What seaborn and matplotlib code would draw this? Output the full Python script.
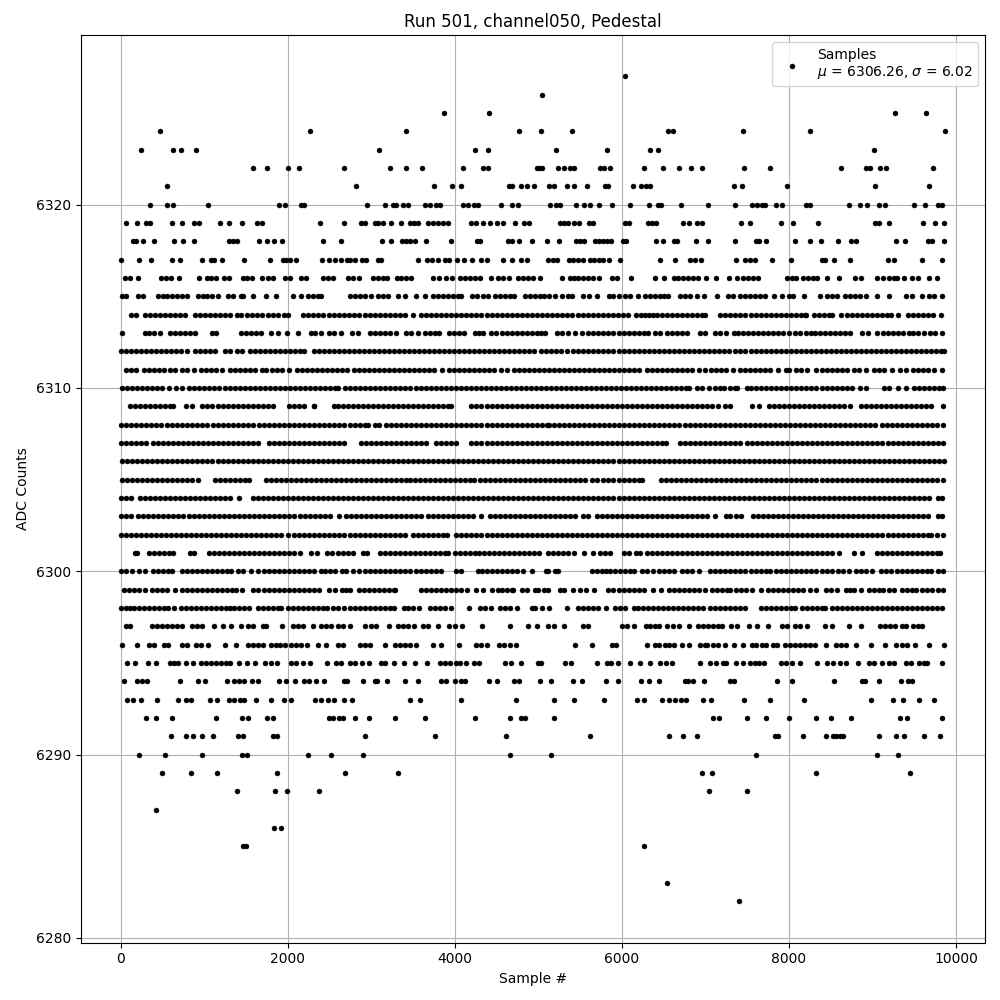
import pandas as pd
import seaborn as sns
import matplotlib
matplotlib.use('Agg')
import matplotlib.pyplot as plt

# sample numbers, one list per ADC level
level_6327 = [6036]
level_6326 = [5040]
level_6325 = [3872, 4412, 9264, 9636]
level_6324 = [476, 2264, 3416, 4772, 5028, 5400, 6552, 6612, 7452, 8256, 9864]
level_6323 = [248, 632, 720, 908, 3092, 4248, 4400, 5208, 5820, 6336, 6432, 9024]
level_6322 = [1580, 1748, 2000, 2132, 2672, 3224, 3416, 3608, 4100, 4340, 4400, 4988, 5012, 5044, 5232, 5304, 5380, 5432, 5744, 5792, 5856, 6264, 6492, 6684, 6828, 6960, 7464, 7776, 8628, 8924, 8972, 9092, 9156, 9720]
level_6321 = [560, 2816, 3752, 3968, 4076, 4644, 4684, 4796, 4868, 4952, 5132, 5184, 5340, 5424, 5580, 5804, 5836, 6132, 6232, 6292, 6340, 7344, 7440, 7980, 9036, 9672]
level_6320 = [356, 560, 632, 1052, 1892, 1968, 2156, 2192, 2948, 3164, 3260, 3300, 3380, 3440, 3640, 3700, 3780, 3820, 4100, 4160, 4228, 4284, 4556, 4688, 4760, 5136, 5212, 5260, 5448, 5552, 5624, 5728, 5888, 6096, 6324, 6432, 6472, 6708, 7032, 7356, 7560, 7612, 7672, 7712, 7848, 7920, 8200, 8252, 8724, 8856, 8940, 9084, 9152, 9492, 9624, 9780, 9832]
level_6319 = [68, 200, 300, 348, 620, 740, 880, 940, 1184, 1292, 1448, 1632, 1688, 2384, 2672, 2880, 2928, 3040, 3080, 3140, 3236, 3356, 3460, 3508, 3560, 3680, 3740, 3800, 3860, 3920, 4200, 4252, 4332, 4420, 4500, 4580, 4724, 4828, 4884, 5260, 5312, 5360, 5432, 5492, 5604, 5660, 6032, 6080, 6312, 6364, 6412, 6732, 6800, 6904, 6960, 7428, 7536, 7908, 8052, 8352, 9036, 9084, 9192, 9600, 9744, 9852]
level_6318 = [152, 188, 272, 404, 644, 752, 884, 1292, 1340, 1392, 1652, 1748, 1832, 1928, 2420, 2636, 3128, 3240, 3372, 3420, 3468, 3520, 3656, 3960, 4272, 4308, 4640, 4680, 4772, 4928, 5100, 5244, 5452, 5500, 5552, 5676, 5732, 5780, 5828, 5876, 6012, 6052, 6412, 6492, 6620, 6660, 6888, 7032, 7356, 7604, 7644, 7728, 8076, 8256, 8388, 8592, 8744, 8800, 9276, 9384, 9660, 9712, 9852]
level_6317 = [8, 224, 368, 620, 716, 980, 1080, 1120, 1208, 1472, 1784, 1940, 1980, 2028, 2096, 2408, 2492, 2564, 2636, 2708, 2748, 2800, 2888, 2940, 3080, 3112, 3560, 3668, 3724, 3804, 3880, 3932, 4028, 4108, 4204, 4320, 4388, 4580, 4688, 4788, 4860, 5120, 5172, 5224, 5372, 5420, 5472, 5532, 5620, 5672, 5724, 5780, 5844, 5976, 6456, 6636, 6812, 6872, 6948, 7368, 7480, 7532, 7596, 7800, 8028, 8400, 8432, 8544, 8736, 9180, 9252, 9588, 9828]
level_6316 = [52, 108, 212, 480, 540, 600, 704, 944, 1040, 1088, 1140, 1240, 1292, 1460, 1508, 1568, 1688, 1760, 1828, 1968, 2028, 2156, 2220, 2428, 2480, 2540, 2720, 2780, 2852, 3020, 3080, 3140, 3188, 3308, 3360, 3420, 3480, 3744, 3812, 3900, 3968, 4060, 4120, 4180, 4240, 4308, 4428, 4520, 4580, 4652, 4760, 4820, 4880, 4940, 5024, 5280, 5380, 5432, 5480, 5532, 5592, 5652, 5732, 5880, 5940, 6112, 6392, 6504, 6620, 6672, 6732, 6792, 6852, 6912, 7008, 7124, 7284, 7380, 7452, 7512, 7572, 7628, 7972, 8032, 8084, 8172, 8232, 8292, 8340, 8460, 8604, 8792, 8860, 9052, 9132, 9192, 9252, 9292, 9380, 9472, 9540, 9672, 9772]
level_6315 = [20, 68, 212, 272, 452, 508, 560, 620, 680, 740, 800, 932, 988, 1040, 1100, 1160, 1280, 1340, 1440, 1468, 1580, 1740, 1856, 2068, 2160, 2240, 2300, 2360, 2400, 2740, 2800, 2860, 2920, 3000, 3080, 3140, 3200, 3320, 3400, 3540, 3640, 3740, 3800, 3860, 3920, 3980, 4040, 4080, 4212, 4272, 4332, 4392, 4480, 4540, 4600, 4660, 4712, 4840, 4900, 4960, 5020, 5072, 5132, 5204, 5280, 5352, 5404, 5532, 5612, 5708, 5844, 5900, 5964, 6032, 6100, 6192, 6272, 6332, 6392, 6452, 6504, 6552, 6692, 6752, 6820, 6904, 6980, 7140, 7272, 7332, 7412, 7472, 7532, 7592, 7652, 7712, 7824, 7912, 8004, 8052, 8180, 8376, 8460, 8520, 8580, 8672, 8732, 8792, 8852, 8924, 9052, 9192, 9404, 9472, 9592, 9672, 9740, 9832]
level_6314 = [130, 190, 290, 350, 410, 470, 530, 590, 650, 710, 770, 890, 950, 1010, 1070, 1130, 1190, 1250, 1310, 1390, 1440, 1510, 1570, 1630, 1690, 1770, 1830, 1890, 1950, 2000, 2180, 2240, 2300, 2360, 2420, 2500, 2550, 2610, 2670, 2730, 2790, 2850, 2930, 2990, 3050, 3110, 3170, 3230, 3290, 3350, 3410, 3500, 3600, 3660, 3720, 3780, 3840, 3900, 3960, 4020, 4080, 4140, 4200, 4260, 4320, 4380, 4440, 4500, 4560, 4620, 4680, 4740, 4800, 4860, 4920, 4980, 5040, 5100, 5160, 5220, 5280, 5340, 5400, 5470, 5530, 5590, 5650, 5710, 5770, 5830, 5890, 5950, 6010, 6070, 6170, 6230, 6280, 6330, 6370, 6420, 6480, 6540, 6600, 6660, 6720, 6780, 6840, 6900, 6960, 7000, 7180, 7240, 7300, 7360, 7420, 7480, 7540, 7600, 7660, 7720, 7780, 7840, 7900, 7960, 8020, 8080, 8140, 8200, 8190, 8300, 8360, 8420, 8480, 8520, 8620, 8690, 8750, 8810, 8870, 8930, 8990, 9050, 9110, 9170, 9220, 9300, 9420, 9490, 9550, 9610, 9670, 9730, 9820]
level_6313 = [20, 290, 340, 400, 470, 590, 650, 710, 770, 830, 890, 1100, 1140, 1440, 1500, 1560, 1620, 1680, 1800, 1890, 1990, 2120, 2280, 2330, 2400, 2490, 2560, 2640, 2770, 2840, 2990, 3050, 3110, 3170, 3230, 3300, 3420, 3480, 3560, 3640, 3700, 3760, 3810, 3930, 3990, 4050, 4110, 4240, 4290, 4340, 4430, 4490, 4570, 4630, 4690, 4750, 4810, 4870, 4930, 4990, 5030, 5080, 5220, 5280, 5350, 5440, 5520, 5600, 5660, 5720, 5780, 5840, 5900, 5960, 6020, 6080, 6140, 6200, 6260, 6310, 6400, 6460, 6540, 6600, 6660, 6720, 6780, 6940, 7000, 7120, 7180, 7250, 7340, 7390, 7450, 7510, 7570, 7630, 7690, 7750, 7810, 7870, 7930, 8000, 8070, 8130, 8210, 8260, 8310, 8370, 8430, 8490, 8550, 8610, 8670, 8730, 8880, 8950, 9050, 9130, 9190, 9250, 9310, 9370, 9440, 9490, 9550, 9620, 9690, 9750, 9830]
level_6312 = [0, 60, 120, 180, 240, 300, 360, 420, 480, 540, 600, 660, 720, 790, 890, 950, 1010, 1070, 1130, 1250, 1310, 1390, 1450, 1550, 1610, 1670, 1730, 1790, 1850, 1910, 1970, 2030, 2090, 2150, 2200, 2310, 2370, 2430, 2490, 2550, 2610, 2670, 2730, 2790, 2850, 2910, 2970, 3030, 3090, 3150, 3210, 3270, 3330, 3390, 3450, 3510, 3570, 3630, 3690, 3750, 3810, 3870, 3930, 3990, 4050, 4110, 4170, 4230, 4290, 4350, 4410, 4470, 4530, 4590, 4650, 4710, 4770, 4830, 4890, 4950, 5030, 5090, 5150, 5210, 5270, 5340, 5420, 5480, 5540, 5600, 5660, 5720, 5780, 5840, 5900, 5960, 6020, 6080, 6140, 6200, 6260, 6320, 6380, 6440, 6500, 6560, 6620, 6680, 6740, 6800, 6860, 6920, 6980, 7040, 7100, 7160, 7220, 7280, 7360, 7420, 7480, 7540, 7600, 7660, 7720, 7780, 7840, 7900, 7960, 8020, 8080, 8140, 8200, 8260, 8320, 8380, 8440, 8500, 8560, 8620, 8680, 8740, 8800, 8860, 8920, 8980, 9040, 9100, 9160, 9220, 9280, 9340, 9400, 9460, 9520, 9580, 9640, 9700, 9760, 9820, 9856]
level_6311 = [60, 120, 180, 285, 345, 405, 465, 525, 590, 650, 730, 790, 880, 960, 1020, 1080, 1140, 1215, 1310, 1370, 1430, 1490, 1550, 1610, 1690, 1740, 1810, 1870, 1930, 2018, 2110, 2170, 2230, 2290, 2350, 2410, 2470, 2530, 2590, 2650, 2710, 2790, 2850, 2910, 2970, 3030, 3090, 3150, 3210, 3270, 3330, 3390, 3450, 3510, 3570, 3630, 3690, 3750, 3850, 3930, 3990, 4050, 4110, 4170, 4230, 4290, 4350, 4410, 4470, 4550, 4630, 4710, 4770, 4830, 4890, 4950, 5010, 5070, 5130, 5190, 5250, 5310, 5370, 5430, 5490, 5550, 5610, 5670, 5730, 5790, 5850, 5910, 5970, 6030, 6090, 6150, 6200, 6300, 6360, 6420, 6480, 6540, 6600, 6660, 6720, 6780, 6840, 6920, 7000, 7070, 7130, 7190, 7250, 7335, 7410, 7470, 7530, 7590, 7650, 7710, 7770, 7870, 7960, 8005, 8080, 8140, 8220, 8330, 8390, 8450, 8510, 8570, 8630, 8690, 8775, 8840, 8920, 9020, 9080, 9140, 9230, 9330, 9400, 9480, 9540, 9600, 9660, 9735, 9830]
level_6310 = [20, 80, 140, 200, 260, 320, 380, 440, 500, 580, 660, 740, 820, 880, 940, 1000, 1060, 1120, 1180, 1250, 1310, 1370, 1430, 1490, 1550, 1610, 1670, 1730, 1790, 1850, 1910, 1970, 2030, 2090, 2150, 2210, 2270, 2330, 2390, 2450, 2510, 2570, 2600, 2690, 2750, 2810, 2870, 2930, 2990, 3050, 3110, 3170, 3230, 3290, 3350, 3410, 3470, 3530, 3590, 3650, 3710, 3770, 3830, 3890, 3950, 4010, 4070, 4130, 4190, 4250, 4310, 4370, 4430, 4490, 4550, 4610, 4670, 4730, 4790, 4850, 4910, 4970, 5030, 5090, 5150, 5210, 5270, 5330, 5390, 5450, 5510, 5570, 5630, 5690, 5750, 5810, 5870, 5930, 5990, 6050, 6110, 6170, 6230, 6290, 6350, 6410, 6470, 6530, 6590, 6650, 6710, 6770, 6800, 6900, 6960, 7040, 7110, 7170, 7220, 7290, 7350, 7380, 7500, 7550, 7610, 7670, 7730, 7790, 7850, 7910, 7970, 8030, 8090, 8150, 8210, 8270, 8330, 8390, 8450, 8510, 8570, 8630, 8690, 8750, 8850, 8920, 9140, 9200, 9300, 9400, 9500, 9560, 9620, 9680, 9740, 9800, 9850]
level_6309 = [110, 170, 230, 290, 350, 410, 470, 530, 590, 630, 780, 850, 980, 1040, 1100, 1160, 1220, 1280, 1340, 1400, 1460, 1520, 1580, 1640, 1700, 1760, 1820, 2020, 2080, 2140, 2200, 2320, 2320, 2550, 2600, 2660, 2720, 2780, 2840, 2900, 2960, 3020, 3080, 3140, 3200, 3260, 3320, 3380, 3440, 3500, 3560, 3620, 3680, 3740, 3800, 3860, 3920, 3960, 4200, 4260, 4320, 4380, 4440, 4500, 4560, 4620, 4680, 4740, 4800, 4860, 4920, 4980, 5040, 5100, 5160, 5220, 5280, 5340, 5400, 5460, 5520, 5580, 5640, 5700, 5760, 5820, 5880, 5940, 6000, 6060, 6120, 6180, 6240, 6300, 6360, 6420, 6480, 6540, 6600, 6660, 6720, 6780, 6840, 6900, 6960, 7020, 7080, 7150, 7240, 7300, 7560, 7640, 7760, 7820, 7880, 7940, 8000, 8060, 8120, 8180, 8240, 8300, 8360, 8420, 8480, 8540, 8600, 8660, 8730, 8860, 8920, 8980, 9040, 9100, 9160, 9220, 9280, 9340, 9400, 9460, 9520, 9580, 9640, 9700, 9840]
level_6308 = [0, 60, 120, 180, 240, 300, 360, 420, 480, 560, 620, 680, 740, 800, 860, 920, 980, 1030, 1110, 1170, 1230, 1290, 1350, 1410, 1470, 1530, 1590, 1660, 1720, 1780, 1840, 1900, 1960, 2020, 2080, 2140, 2200, 2260, 2320, 2380, 2440, 2500, 2560, 2620, 2680, 2740, 2800, 2860, 2920, 2960, 3050, 3090, 3180, 3240, 3300, 3360, 3420, 3480, 3540, 3600, 3660, 3720, 3780, 3840, 3900, 3960, 4020, 4080, 4140, 4200, 4260, 4320, 4380, 4440, 4500, 4560, 4620, 4680, 4740, 4800, 4860, 4920, 4980, 5040, 5100, 5130, 5190, 5250, 5310, 5370, 5430, 5490, 5550, 5610, 5670, 5730, 5790, 5850, 5910, 5970, 6030, 6090, 6150, 6210, 6270, 6330, 6390, 6450, 6510, 6570, 6630, 6690, 6750, 6810, 6870, 6930, 6990, 7050, 7110, 7170, 7230, 7290, 7350, 7410, 7470, 7530, 7590, 7650, 7710, 7770, 7830, 7890, 7950, 8010, 8070, 8130, 8190, 8250, 8310, 8370, 8430, 8490, 8550, 8610, 8670, 8730, 8790, 8850, 8910, 8970, 9030, 9110, 9170, 9230, 9290, 9350, 9410, 9470, 9530, 9590, 9650, 9710, 9770, 9850]
level_6307 = [0, 60, 120, 180, 240, 300, 390, 450, 510, 570, 630, 690, 750, 810, 870, 930, 990, 1050, 1110, 1170, 1230, 1290, 1350, 1410, 1470, 1530, 1590, 1650, 1780, 1840, 1900, 1960, 2020, 2080, 2140, 2200, 2260, 2320, 2380, 2440, 2500, 2560, 2620, 2680, 2880, 2940, 3000, 3060, 3120, 3180, 3240, 3300, 3360, 3420, 3480, 3540, 3600, 3660, 3780, 3840, 3900, 3960, 4020, 4200, 4260, 4320, 4380, 4440, 4500, 4560, 4620, 4680, 4740, 4800, 4860, 4920, 4980, 5040, 5100, 5160, 5220, 5280, 5340, 5400, 5460, 5520, 5580, 5640, 5700, 5760, 5820, 5880, 5940, 6000, 6060, 6120, 6180, 6240, 6300, 6360, 6420, 6480, 6530, 6700, 6760, 6820, 6880, 6940, 7000, 7060, 7120, 7180, 7240, 7300, 7360, 7420, 7500, 7560, 7620, 7680, 7740, 7800, 7860, 7920, 7980, 8040, 8100, 8160, 8220, 8280, 8340, 8400, 8460, 8520, 8580, 8640, 8700, 8760, 8820, 8880, 8940, 9000, 9060, 9120, 9180, 9240, 9300, 9360, 9420, 9480, 9540, 9600, 9660, 9720, 9780, 9850]
level_6306 = [20, 80, 140, 200, 260, 320, 380, 440, 500, 560, 620, 680, 740, 800, 860, 920, 980, 1040, 1100, 1160, 1220, 1280, 1340, 1400, 1460, 1520, 1580, 1640, 1700, 1760, 1820, 1880, 1940, 2000, 2060, 2120, 2180, 2240, 2300, 2360, 2420, 2480, 2540, 2600, 2660, 2720, 2780, 2840, 2900, 2960, 3020, 3080, 3140, 3200, 3260, 3320, 3380, 3440, 3500, 3560, 3620, 3680, 3740, 3800, 3860, 3920, 3980, 4040, 4100, 4160, 4220, 4280, 4340, 4400, 4460, 4520, 4580, 4640, 4700, 4760, 4820, 4880, 4940, 5000, 5060, 5120, 5180, 5240, 5300, 5360, 5420, 5480, 5540, 5600, 5660, 5720, 5780, 5840, 5900, 5960, 6020, 6080, 6140, 6200, 6260, 6320, 6380, 6440, 6500, 6560, 6620, 6680, 6740, 6800, 6860, 6920, 6980, 7040, 7100, 7160, 7220, 7280, 7340, 7400, 7460, 7520, 7580, 7640, 7700, 7760, 7820, 7880, 7940, 8000, 8060, 8120, 8180, 8240, 8300, 8360, 8420, 8480, 8540, 8600, 8660, 8720, 8780, 8840, 8900, 8960, 9020, 9080, 9140, 9200, 9260, 9320, 9380, 9440, 9500, 9560, 9620, 9680, 9740, 9800, 9860]
level_6305 = [20, 80, 140, 200, 260, 320, 380, 440, 500, 560, 620, 680, 740, 800, 860, 930, 1130, 1190, 1250, 1310, 1370, 1430, 1490, 1540, 1740, 1800, 1860, 1920, 1980, 2040, 2100, 2160, 2220, 2280, 2340, 2400, 2460, 2520, 2580, 2640, 2700, 2760, 2820, 2880, 2940, 3000, 3060, 3120, 3180, 3240, 3300, 3360, 3420, 3460, 3520, 3580, 3640, 3700, 3760, 3820, 3880, 3940, 4000, 4060, 4120, 4180, 4230, 4300, 4360, 4420, 4480, 4540, 4600, 4660, 4720, 4780, 4840, 4900, 4960, 5020, 5080, 5140, 5200, 5260, 5320, 5380, 5440, 5500, 5560, 5640, 5700, 5780, 5840, 5900, 5960, 6020, 6080, 6140, 6200, 6240, 6470, 6530, 6590, 6650, 6710, 6770, 6830, 6890, 6950, 7010, 7070, 7130, 7190, 7250, 7310, 7370, 7430, 7490, 7550, 7610, 7670, 7730, 7790, 7850, 7910, 7970, 8030, 8090, 8150, 8210, 8270, 8330, 8390, 8450, 8510, 8570, 8630, 8690, 8750, 8810, 8870, 8930, 8990, 9050, 9110, 9170, 9230, 9290, 9350, 9410, 9470, 9530, 9590, 9650, 9710, 9770, 9850]
level_6304 = [0, 60, 130, 230, 290, 350, 410, 470, 530, 590, 650, 710, 770, 830, 890, 950, 1010, 1070, 1130, 1190, 1250, 1310, 1420, 1580, 1640, 1700, 1760, 1820, 1880, 1940, 2000, 2060, 2120, 2180, 2240, 2300, 2360, 2420, 2480, 2540, 2600, 2660, 2720, 2780, 2840, 2900, 2960, 3020, 3080, 3140, 3200, 3260, 3320, 3380, 3440, 3500, 3560, 3620, 3680, 3740, 3800, 3860, 3920, 3980, 4040, 4100, 4160, 4220, 4280, 4340, 4400, 4460, 4520, 4580, 4640, 4700, 4760, 4820, 4880, 4940, 5000, 5060, 5120, 5180, 5240, 5300, 5360, 5420, 5480, 5540, 5600, 5660, 5720, 5780, 5840, 5900, 5960, 6020, 6080, 6140, 6200, 6260, 6320, 6380, 6440, 6500, 6560, 6620, 6680, 6740, 6800, 6860, 6920, 6980, 7040, 7100, 7160, 7220, 7280, 7340, 7400, 7460, 7520, 7580, 7640, 7700, 7760, 7820, 7880, 7940, 8000, 8060, 8120, 8180, 8240, 8300, 8360, 8420, 8480, 8540, 8600, 8660, 8720, 8780, 8840, 8900, 8960, 9020, 9080, 9140, 9200, 9260, 9320, 9380, 9440, 9500, 9560, 9620, 9680, 9780, 9830]
level_6303 = [10, 70, 130, 210, 270, 330, 390, 450, 510, 570, 630, 690, 750, 820, 880, 940, 1000, 1060, 1120, 1180, 1240, 1300, 1360, 1420, 1480, 1540, 1600, 1660, 1720, 1780, 1840, 1900, 1960, 2020, 2080, 2150, 2210, 2270, 2330, 2390, 2450, 2510, 2610, 2700, 2760, 2820, 2880, 2940, 3000, 3060, 3120, 3180, 3240, 3300, 3360, 3420, 3480, 3540, 3600, 3680, 3740, 3800, 3860, 3920, 3980, 4040, 4100, 4160, 4220, 4320, 4420, 4480, 4540, 4600, 4660, 4720, 4780, 4840, 4900, 4960, 5020, 5080, 5140, 5200, 5260, 5320, 5380, 5440, 5530, 5590, 5700, 5760, 5820, 5880, 5940, 6000, 6060, 6120, 6180, 6240, 6300, 6360, 6420, 6480, 6540, 6600, 6660, 6720, 6780, 6840, 6900, 6960, 7020, 7120, 7250, 7300, 7370, 7430, 7570, 7630, 7690, 7750, 7810, 7870, 7930, 7990, 8050, 8110, 8170, 8230, 8290, 8350, 8410, 8470, 8530, 8590, 8650, 8710, 8770, 8830, 8890, 8950, 9010, 9070, 9130, 9190, 9250, 9310, 9370, 9430, 9490, 9550, 9610, 9670, 9780, 9830]
level_6302 = [0, 60, 120, 180, 240, 300, 360, 420, 480, 540, 600, 660, 720, 780, 840, 900, 960, 1020, 1080, 1140, 1200, 1260, 1320, 1380, 1440, 1500, 1560, 1620, 1680, 1740, 1800, 1860, 1920, 2000, 2080, 2140, 2200, 2260, 2320, 2380, 2440, 2500, 2560, 2620, 2680, 2750, 2810, 2870, 2930, 2990, 3050, 3110, 3170, 3230, 3290, 3350, 3400, 3500, 3560, 3620, 3680, 3740, 3800, 3860, 3910, 4020, 4080, 4140, 4200, 4260, 4320, 4380, 4440, 4500, 4560, 4620, 4680, 4740, 4800, 4860, 4920, 4980, 5040, 5100, 5160, 5220, 5280, 5340, 5400, 5460, 5520, 5580, 5640, 5700, 5760, 5820, 5880, 5940, 6000, 6060, 6120, 6180, 6240, 6300, 6360, 6420, 6480, 6540, 6600, 6660, 6720, 6780, 6840, 6900, 6960, 7020, 7080, 7140, 7200, 7260, 7320, 7380, 7440, 7500, 7560, 7620, 7680, 7740, 7800, 7860, 7920, 7980, 8040, 8100, 8160, 8220, 8280, 8340, 8400, 8460, 8520, 8580, 8640, 8700, 8760, 8820, 8880, 8940, 9000, 9060, 9120, 9180, 9240, 9300, 9360, 9420, 9480, 9540, 9600, 9660, 9700, 9770, 9850]
level_6301 = [170, 200, 340, 400, 460, 520, 580, 630, 830, 880, 1060, 1120, 1180, 1240, 1300, 1360, 1420, 1480, 1540, 1600, 1660, 1720, 1780, 1840, 1900, 1960, 2020, 2080, 2150, 2280, 2350, 2470, 2530, 2600, 2660, 2720, 2780, 2900, 2950, 3160, 3100, 3220, 3280, 3340, 3400, 3460, 3520, 3580, 3640, 3700, 3760, 3820, 3880, 3920, 4000, 4060, 4120, 4180, 4240, 4290, 4350, 4410, 4470, 4530, 4590, 4650, 4710, 4770, 4830, 4890, 4950, 5010, 5120, 5180, 5240, 5300, 5360, 5430, 5550, 5650, 5740, 5800, 5860, 6030, 6080, 6170, 6220, 6300, 6360, 6420, 6480, 6540, 6600, 6660, 6720, 6780, 6840, 6900, 6960, 7020, 7080, 7140, 7200, 7260, 7320, 7380, 7440, 7500, 7560, 7620, 7680, 7740, 7800, 7860, 7920, 7980, 8040, 8100, 8160, 8220, 8280, 8340, 8400, 8460, 8520, 8600, 8780, 8870, 9050, 9110, 9170, 9230, 9290, 9350, 9410, 9470, 9530, 9590, 9650, 9710, 9770, 9810]
level_6300 = [0, 60, 140, 220, 290, 390, 450, 510, 570, 620, 730, 790, 850, 910, 970, 1030, 1090, 1150, 1210, 1270, 1320, 1400, 1460, 1560, 1650, 1720, 1780, 1840, 1900, 1960, 2020, 2080, 2140, 2200, 2260, 2320, 2400, 2450, 2510, 2570, 2650, 2700, 2780, 2850, 2920, 2990, 3050, 3110, 3170, 3230, 3290, 3350, 3410, 3470, 3530, 3590, 3650, 3710, 3770, 3840, 4010, 4080, 4280, 4330, 4390, 4450, 4510, 4570, 4630, 4690, 4750, 4820, 4920, 5090, 5120, 5200, 5230, 5640, 5700, 5760, 5810, 5860, 5920, 5980, 6040, 6100, 6150, 6240, 6300, 6370, 6450, 6510, 6570, 6630, 6720, 6780, 6840, 6920, 7050, 7110, 7170, 7230, 7290, 7350, 7410, 7470, 7540, 7600, 7660, 7720, 7770, 7850, 7910, 7970, 8030, 8090, 8150, 8210, 8270, 8330, 8390, 8450, 8510, 8590, 8650, 8720, 8800, 8860, 8920, 9000, 9100, 9160, 9220, 9290, 9350, 9410, 9470, 9530, 9590, 9650, 9700, 9780, 9850]
level_6299 = [40, 100, 160, 220, 290, 370, 430, 490, 560, 650, 730, 790, 850, 910, 970, 1030, 1090, 1150, 1210, 1270, 1330, 1380, 1450, 1590, 1640, 1720, 1780, 1840, 1900, 1960, 2020, 2080, 2140, 2200, 2260, 2320, 2380, 2500, 2570, 2650, 2700, 2750, 2850, 2910, 2970, 3030, 3090, 3150, 3210, 3270, 3290, 3600, 3660, 3720, 3780, 3840, 3900, 3960, 4020, 4080, 4150, 4250, 4340, 4450, 4520, 4570, 4630, 4690, 4700, 4810, 4870, 4960, 5000, 5070, 5120, 5310, 5260, 5410, 5500, 5570, 5670, 5830, 5900, 5960, 6020, 6080, 6140, 6200, 6260, 6370, 6470, 6560, 6620, 6680, 6740, 6800, 6860, 6920, 6990, 7080, 7140, 7200, 7260, 7290, 7370, 7430, 7490, 7560, 7670, 7750, 7810, 7870, 7930, 7990, 8050, 8110, 8170, 8250, 8320, 8440, 8500, 8580, 8680, 8730, 8780, 8860, 8960, 9020, 9080, 9130, 9200, 9260, 9350, 9410, 9470, 9520, 9590, 9650, 9710, 9790, 9840]
level_6298 = [0, 60, 108, 160, 220, 280, 340, 400, 460, 520, 568, 644, 720, 780, 840, 900, 960, 1020, 1080, 1140, 1200, 1260, 1308, 1360, 1420, 1480, 1540, 1640, 1700, 1760, 1820, 1880, 1920, 2000, 2060, 2120, 2180, 2240, 2300, 2360, 2420, 2472, 2548, 2608, 2680, 2748, 2808, 2868, 2928, 2988, 3048, 3108, 3168, 3228, 3268, 3388, 3440, 3500, 3572, 3708, 3760, 3820, 3880, 3960, 4172, 4300, 4360, 4428, 4540, 4600, 4660, 4748, 4920, 4960, 5044, 5124, 5340, 5480, 5532, 5592, 5652, 5712, 5812, 5924, 5972, 6032, 6140, 6192, 6252, 6312, 6372, 6432, 6492, 6552, 6612, 6672, 6732, 6792, 6852, 6912, 6972, 7052, 7112, 7172, 7232, 7292, 7352, 7412, 7472, 7660, 7720, 7780, 7840, 7900, 7960, 8020, 8072, 8152, 8212, 8272, 8332, 8392, 8432, 8512, 8572, 8632, 8692, 8752, 8812, 8872, 8932, 8992, 9052, 9112, 9172, 9232, 9292, 9352, 9412, 9472, 9532, 9592, 9652, 9712, 9772, 9832]
level_6297 = [60, 108, 380, 440, 500, 560, 620, 680, 740, 860, 920, 980, 1120, 1220, 1316, 1436, 1520, 1580, 1700, 1740, 1932, 2060, 2120, 2180, 2300, 2400, 2460, 2520, 2600, 2660, 2740, 2928, 3000, 3060, 3208, 3320, 3380, 3440, 3512, 3620, 3680, 3800, 3932, 4000, 4092, 4328, 4664, 4880, 4980, 5120, 5192, 5304, 5532, 5600, 6000, 6060, 6144, 6284, 6340, 6392, 6444, 6540, 6612, 6680, 6804, 6912, 6972, 7032, 7092, 7152, 7204, 7312, 7380, 7524, 7612, 7752, 7912, 7972, 8072, 8132, 8212, 8432, 8512, 8716, 8868, 9092, 9152, 9212, 9272, 9352, 9404, 9480, 9540, 9592]
level_6296 = [20, 200, 340, 400, 520, 568, 740, 800, 900, 960, 1052, 1244, 1376, 1520, 1580, 1640, 1700, 1800, 1860, 1904, 1972, 2040, 2100, 2160, 2228, 2360, 2460, 2600, 2660, 2868, 2928, 2988, 3164, 3280, 3340, 3400, 3460, 3540, 3740, 3836, 4048, 4252, 4320, 4380, 4532, 4588, 4660, 4732, 5444, 5640, 5884, 5932, 6300, 6392, 6444, 6512, 6564, 6620, 6724, 6804, 6932, 6992, 7024, 7092, 7152, 7236, 7344, 7452, 7552, 7604, 7672, 7724, 7804, 7852, 7952, 8012, 8072, 8132, 8192, 8252, 8312, 8448, 8564, 8620, 8680, 8808, 8980, 9144, 9276, 9352, 9412, 9504, 9680, 9852]
level_6295 = [80, 168, 332, 428, 588, 640, 692, 788, 872, 960, 1020, 1080, 1140, 1200, 1260, 1308, 1412, 1508, 1604, 1724, 1800, 1868, 2036, 2100, 2180, 2272, 2468, 2576, 2640, 2740, 2800, 2888, 2972, 3120, 3168, 3276, 3388, 3524, 3668, 3820, 3884, 3940, 4020, 4068, 4140, 4228, 4292, 4600, 4668, 4792, 4992, 5036, 5320, 5392, 5708, 5820, 5872, 5952, 6096, 6216, 6336, 6460, 6524, 6604, 6936, 7056, 7132, 7212, 7252, 7372, 7452, 7532, 7592, 7644, 7704, 7900, 7964, 8032, 8136, 8340, 8460, 8532, 8612, 8684, 8832, 8964, 9024, 9120, 9192, 9252, 9404, 9460, 9552, 9612, 9652, 9828]
level_6294 = [44, 200, 260, 320, 716, 932, 1012, 1268, 1352, 1420, 1480, 1568, 1640, 1900, 1980, 2084, 2200, 2260, 2340, 2432, 2672, 2708, 2900, 3040, 3068, 3188, 3404, 3560, 3840, 3900, 4004, 4080, 4128, 4404, 4508, 4712, 4772, 5016, 5148, 5412, 5520, 5808, 5952, 6228, 6324, 6444, 6752, 6796, 6852, 6984, 7292, 7344, 7860, 8040, 8544, 8880, 8912, 9084, 9336, 9424, 9472]
level_6293 = [80, 152, 248, 440, 692, 780, 840, 1068, 1148, 1292, 1352, 1428, 1480, 1624, 1796, 1952, 2036, 2324, 2396, 2480, 2552, 2680, 2768, 3464, 3584, 4076, 4736, 5184, 5424, 5784, 6180, 6268, 6484, 6564, 6636, 6712, 6772, 6972, 7068, 7464, 7776, 8184, 8988, 9244, 9360, 9552, 9732]
level_6292 = [308, 428, 620, 1136, 1448, 1520, 1748, 1820, 2492, 2540, 2620, 2668, 2804, 2972, 3284, 3644, 4244, 4656, 4792, 4840, 5184, 7092, 7164, 7500, 7728, 8004, 8328, 8508, 8748, 9324, 9412, 9828]
level_6291 = [608, 788, 872, 980, 1112, 1400, 1460, 1820, 1872, 2924, 3764, 4616, 5616, 6564, 6732, 6900, 7836, 7872, 8172, 8448, 8524, 8564, 8612, 8644, 9084, 9276, 9372, 9612, 9804]
level_6290 = [224, 536, 980, 1448, 1508, 2240, 2516, 2900, 4664, 5148, 7608, 9060, 9300]
level_6289 = [500, 848, 1148, 1868, 2684, 3320, 6960, 7080, 8328, 9444]
level_6288 = [1388, 1844, 1988, 2372, 7044, 7500]
level_6287 = [428]
level_6286 = [1832, 1916]
level_6285 = [1460, 1500, 6264]
level_6283 = [6540]
level_6282 = [7404]

levels = {
    6327: level_6327, 6326: level_6326, 6325: level_6325, 6324: level_6324,
    6323: level_6323, 6322: level_6322, 6321: level_6321, 6320: level_6320,
    6319: level_6319, 6318: level_6318, 6317: level_6317, 6316: level_6316,
    6315: level_6315, 6314: level_6314, 6313: level_6313, 6312: level_6312,
    6311: level_6311, 6310: level_6310, 6309: level_6309, 6308: level_6308,
    6307: level_6307, 6306: level_6306, 6305: level_6305, 6304: level_6304,
    6303: level_6303, 6302: level_6302, 6301: level_6301, 6300: level_6300,
    6299: level_6299, 6298: level_6298, 6297: level_6297, 6296: level_6296,
    6295: level_6295, 6294: level_6294, 6293: level_6293, 6292: level_6292,
    6291: level_6291, 6290: level_6290, 6289: level_6289, 6288: level_6288,
    6287: level_6287, 6286: level_6286, 6285: level_6285, 6283: level_6283,
    6282: level_6282,
}

samples = pd.DataFrame(
    [(s, adc) for adc, xs in levels.items() for s in xs],
    columns=['sample', 'adc'],
)

fig, ax = plt.subplots(figsize=(10, 10), dpi=100)
sns.scatterplot(
    data=samples, x='sample', y='adc', ax=ax, color='black', marker='o',
    s=13, edgecolor='black', linewidth=0.3,
    label='Samples\n$\\mu$ = 6306.26, $\\sigma$ = 6.02',
)
ax.set_axisbelow(True)
ax.grid(True)
ax.set_xlim(-480, 10347)
ax.set_ylim(6279.75, 6329.25)
ax.set_title('Run 501, channel050, Pedestal')
ax.set_xlabel('Sample #')
ax.set_ylabel('ADC Counts')
ax.legend(loc='upper right')

fig.subplots_adjust(left=0.0805, right=0.985, top=0.965, bottom=0.0575)
fig.savefig('out.png', dpi=100)
